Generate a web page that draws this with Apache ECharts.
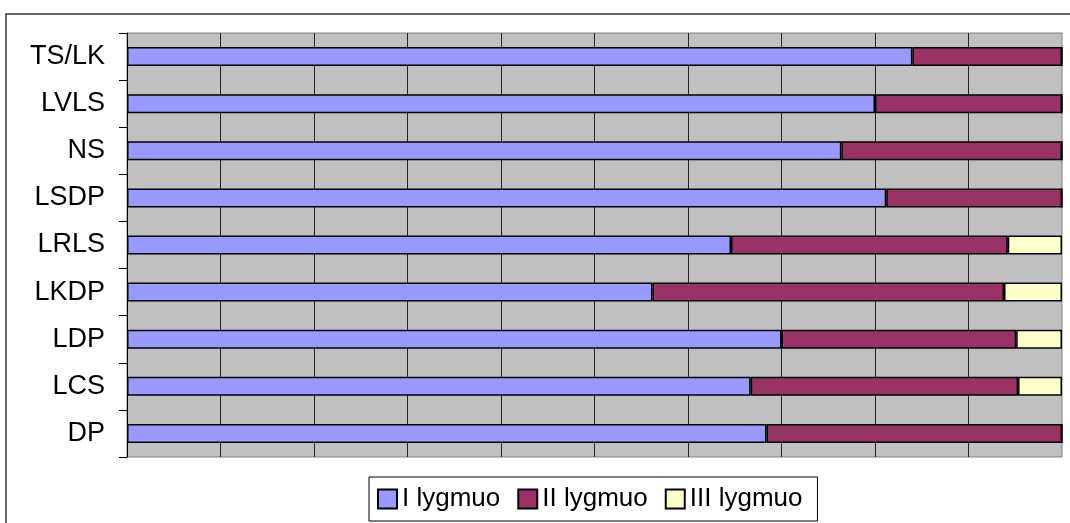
<!DOCTYPE html>
<html>
<head>
<meta charset="utf-8">
<script src="https://cdn.jsdelivr.net/npm/echarts@6/dist/echarts.min.js"></script>
<style>
  html, body { margin: 0; padding: 0; background: #fff; }
  #chart { width: 1070px; height: 523px; }
</style>
</head>
<body>
<div id="chart"></div>
<script>
// kategorijos (is virsaus i apacia)
var categories = ["TS/LK", "LVLS", "NS", "LSDP", "LRLS", "LKDP", "LDP", "LCS", "DP"];
var seriesNames = ["I lygmuo", "II lygmuo", "III lygmuo"];
var level1 = [84.0, 80.0, 76.4, 81.2, 64.6, 56.2, 70.0, 66.7, 68.4];
var level2 = [16.0, 20.0, 23.6, 18.8, 29.6, 37.6, 25.1, 28.6, 31.6];
var level3 = [0, 0, 0, 0, 5.8, 6.2, 4.9, 4.7, 0];
var xTicks = [0, 10, 20, 30, 40, 50, 60, 70, 80, 90, 100];

var colors = ["#9999FF", "#993366", "#FFFFCC"];
var fontFamily = "Liberation Sans, Arial, sans-serif";

var chart = echarts.init(document.getElementById("chart"));

function makeSeries(name, data, color) {
  return {
    name: name,
    type: "bar",
    stack: "total",
    barWidth: 19,
    animation: false,
    itemStyle: {
      color: color,
      borderColor: "#000",
      borderWidth: 1.5,
    },
    data: data,
  };
}

var option = {
  backgroundColor: "#fff",
  graphic: [
    {
      // outer chart frame (only top and left visible)
      type: "rect",
      shape: { x: 6, y: 14, width: 1100, height: 600 },
      style: { fill: "none", stroke: "#333", lineWidth: 1.5 },
      silent: true,
    },
  ],
  grid: {
    left: 127,
    right: 8,
    top: 33,
    bottom: 66,
    show: true,
    backgroundColor: "#C0C0C0",
    borderColor: "#808080",
    borderWidth: 1,
  },
  legend: {
    data: seriesNames,
    left: 369,
    top: 477,
    orient: "horizontal",
    icon: "rect",
    itemWidth: 19,
    itemHeight: 19,
    itemGap: 17,
    padding: [8, 15, 8, 8],
    borderColor: "#000",
    borderWidth: 1,
    textStyle: {
      color: "#000",
      fontSize: 26,
      lineHeight: 28,
      fontFamily: fontFamily,
    },
  },
  xAxis: {
    type: "value",
    min: xTicks[0],
    max: xTicks[xTicks.length - 1],
    interval: xTicks[1] - xTicks[0],
    axisLine: { show: false },
    axisTick: { show: false },
    axisLabel: { show: false },
    splitLine: {
      show: true,
      showMinLine: false,
      showMaxLine: false,
      lineStyle: { color: "#222", width: 1 },
    },
  },
  yAxis: {
    type: "category",
    inverse: true,
    data: categories,
    axisLine: { show: true, lineStyle: { color: "#000", width: 1 } },
    axisTick: { show: true, length: 8, lineStyle: { color: "#000" } },
    axisLabel: {
      color: "#000",
      fontSize: 27,
      fontFamily: fontFamily,
      margin: 22,
    },
  },
  series: [
    makeSeries(seriesNames[0], level1, colors[0]),
    makeSeries(seriesNames[1], level2, colors[1]),
    makeSeries(seriesNames[2], level3, colors[2]),
  ],
};

chart.setOption(option);
</script>
</body>
</html>
